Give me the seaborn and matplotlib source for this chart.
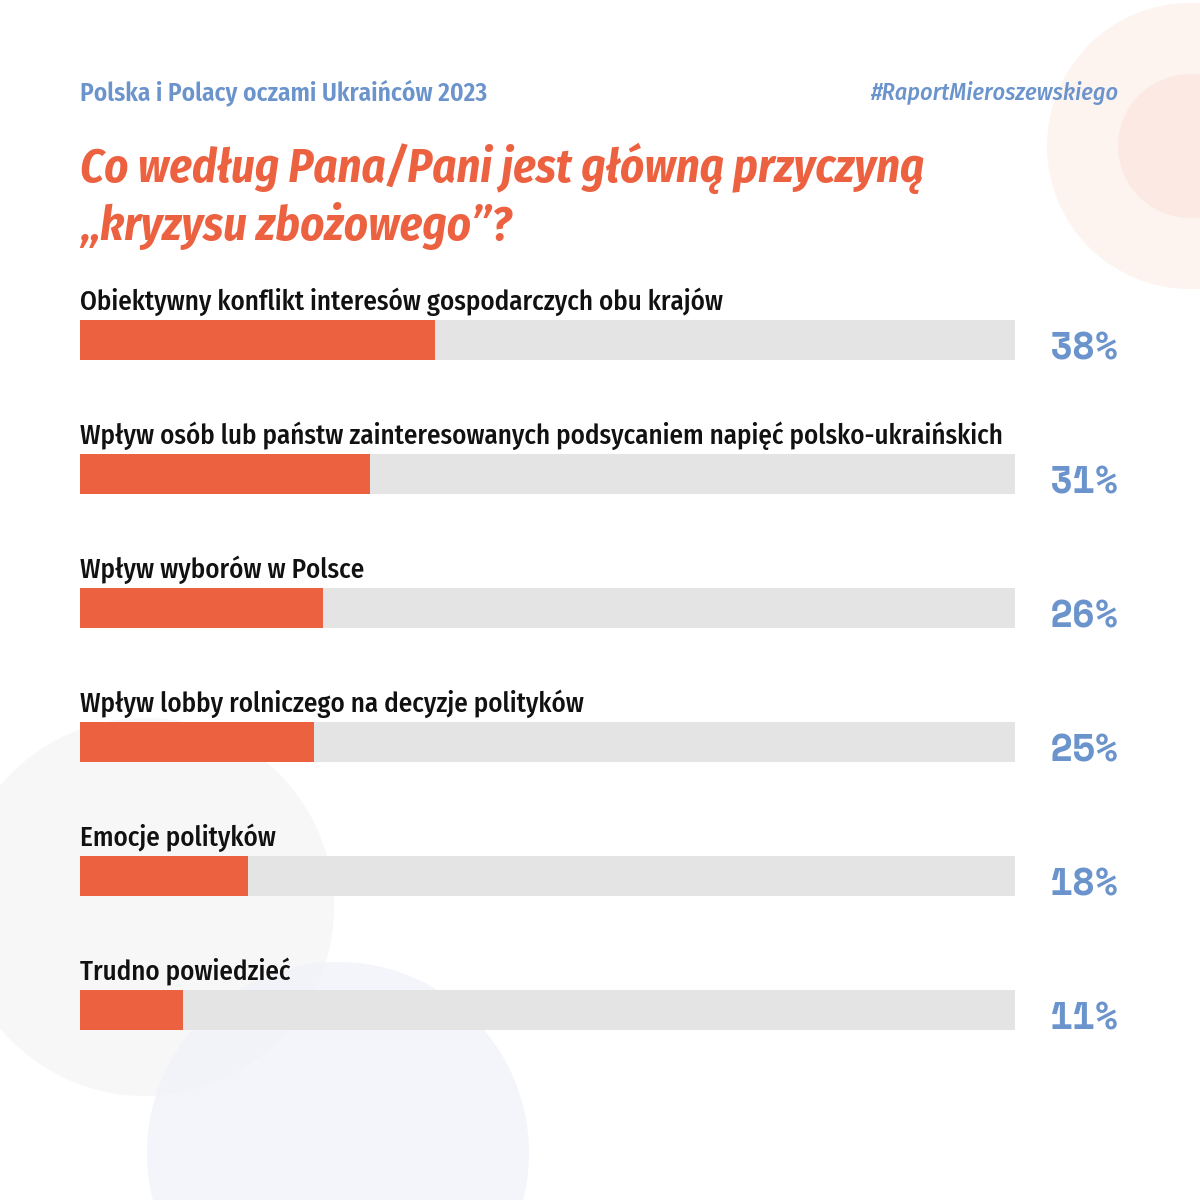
import matplotlib
matplotlib.use("Agg")
import matplotlib.pyplot as plt
from matplotlib.patches import Circle
import pandas as pd
import seaborn as sns

# chart data
answers = [
    "Obiektywny konflikt interesów gospodarczych obu krajów",
    "Wpływ osób lub państw zainteresowanych podsycaniem napięć polsko-ukraińskich",
    "Wpływ wyborów w Polsce",
    "Wpływ lobby rolniczego na decyzje polityków",
    "Emocje polityków",
    "Trudno powiedzieć",
]
shares = [38, 31, 26, 25, 18, 11]
scale_max = 100

header_left = "Polska i Polacy oczami Ukraińców 2023"
header_right = "#RaportMieroszewskiego"
title_lines = ["Co według Pana/Pani jest główną przyczyną", "„kryzysu zbożowego”?"]

ORANGE = "#EC6241"
TRACK = "#E4E4E4"
BLUE = "#6B93CC"
INK = "#111111"

sns.set_theme(style="white")
narrow = ["Fira Sans Condensed", "Barlow Semi Condensed", "DejaVu Sans"]
mono = ["Space Mono", "DejaVu Sans Mono"]
plt.rcParams["font.family"] = narrow

df = pd.DataFrame({"answer": answers, "share": shares})
df["track"] = scale_max

fig = plt.figure(figsize=(12, 12), dpi=100)
fig.patch.set_facecolor("white")

# background layer in pixel coordinates
bg = fig.add_axes([0, 0, 1, 1], zorder=0)
bg.set_xlim(0, 1200)
bg.set_ylim(1200, 0)
bg.axis("off")
bg.add_patch(Circle((1190, 146), 143, color="#FDF4F0", lw=0))
bg.add_patch(Circle((1190, 146), 72, color="#FCE9E3", lw=0))
bg.add_patch(Circle((145, 907), 189, color="#F7F7F7", lw=0))
bg.add_patch(Circle((338, 1153), 191, color="#F1F3FA", lw=0, alpha=0.8))

bg.text(80, 100, header_left, fontsize=18.3, fontweight="semibold", color=BLUE,
        family=narrow, va="baseline", ha="left")
bg.text(1118, 100, header_right, fontsize=17.3, fontweight="medium", fontstyle="italic",
        color=BLUE, family=narrow, va="baseline", ha="right")
for i, line in enumerate(title_lines):
    bg.text(80, 182 + 58 * i, line, fontsize=33.5, fontweight="bold", fontstyle="italic",
            color=ORANGE, family=narrow, va="baseline", ha="left")

# bar layer
ax = fig.add_axes([80 / 1200, 1 - 1077 / 1200, 935 / 1200, 804 / 1200], zorder=1)
ax.patch.set_alpha(0)
bw = 40 / 134
sns.barplot(data=df, x="track", y="answer", color=TRACK, width=bw, saturation=1,
            orient="h", ax=ax, linewidth=0)
sns.barplot(data=df, x="share", y="answer", color=ORANGE, width=bw, saturation=1,
            orient="h", ax=ax, linewidth=0)
ax.set_xlim(0, scale_max)
ax.set_ylim(len(answers) - 0.5, -0.5)
ax.axis("off")

for i, (label, val) in enumerate(zip(answers, shares)):
    ax.text(0, i - bw / 2 - 0.075, label, fontsize=19.4, fontweight="medium", color=INK,
            family=narrow, ha="left", va="baseline")
    ax.text(1.111, i + bw / 2, f"{val}%", transform=ax.get_yaxis_transform(),
            fontsize=27, fontweight="bold", color=BLUE, family=mono,
            ha="right", va="baseline", clip_on=False)

fig.savefig("out.png", dpi=100, facecolor="white")
